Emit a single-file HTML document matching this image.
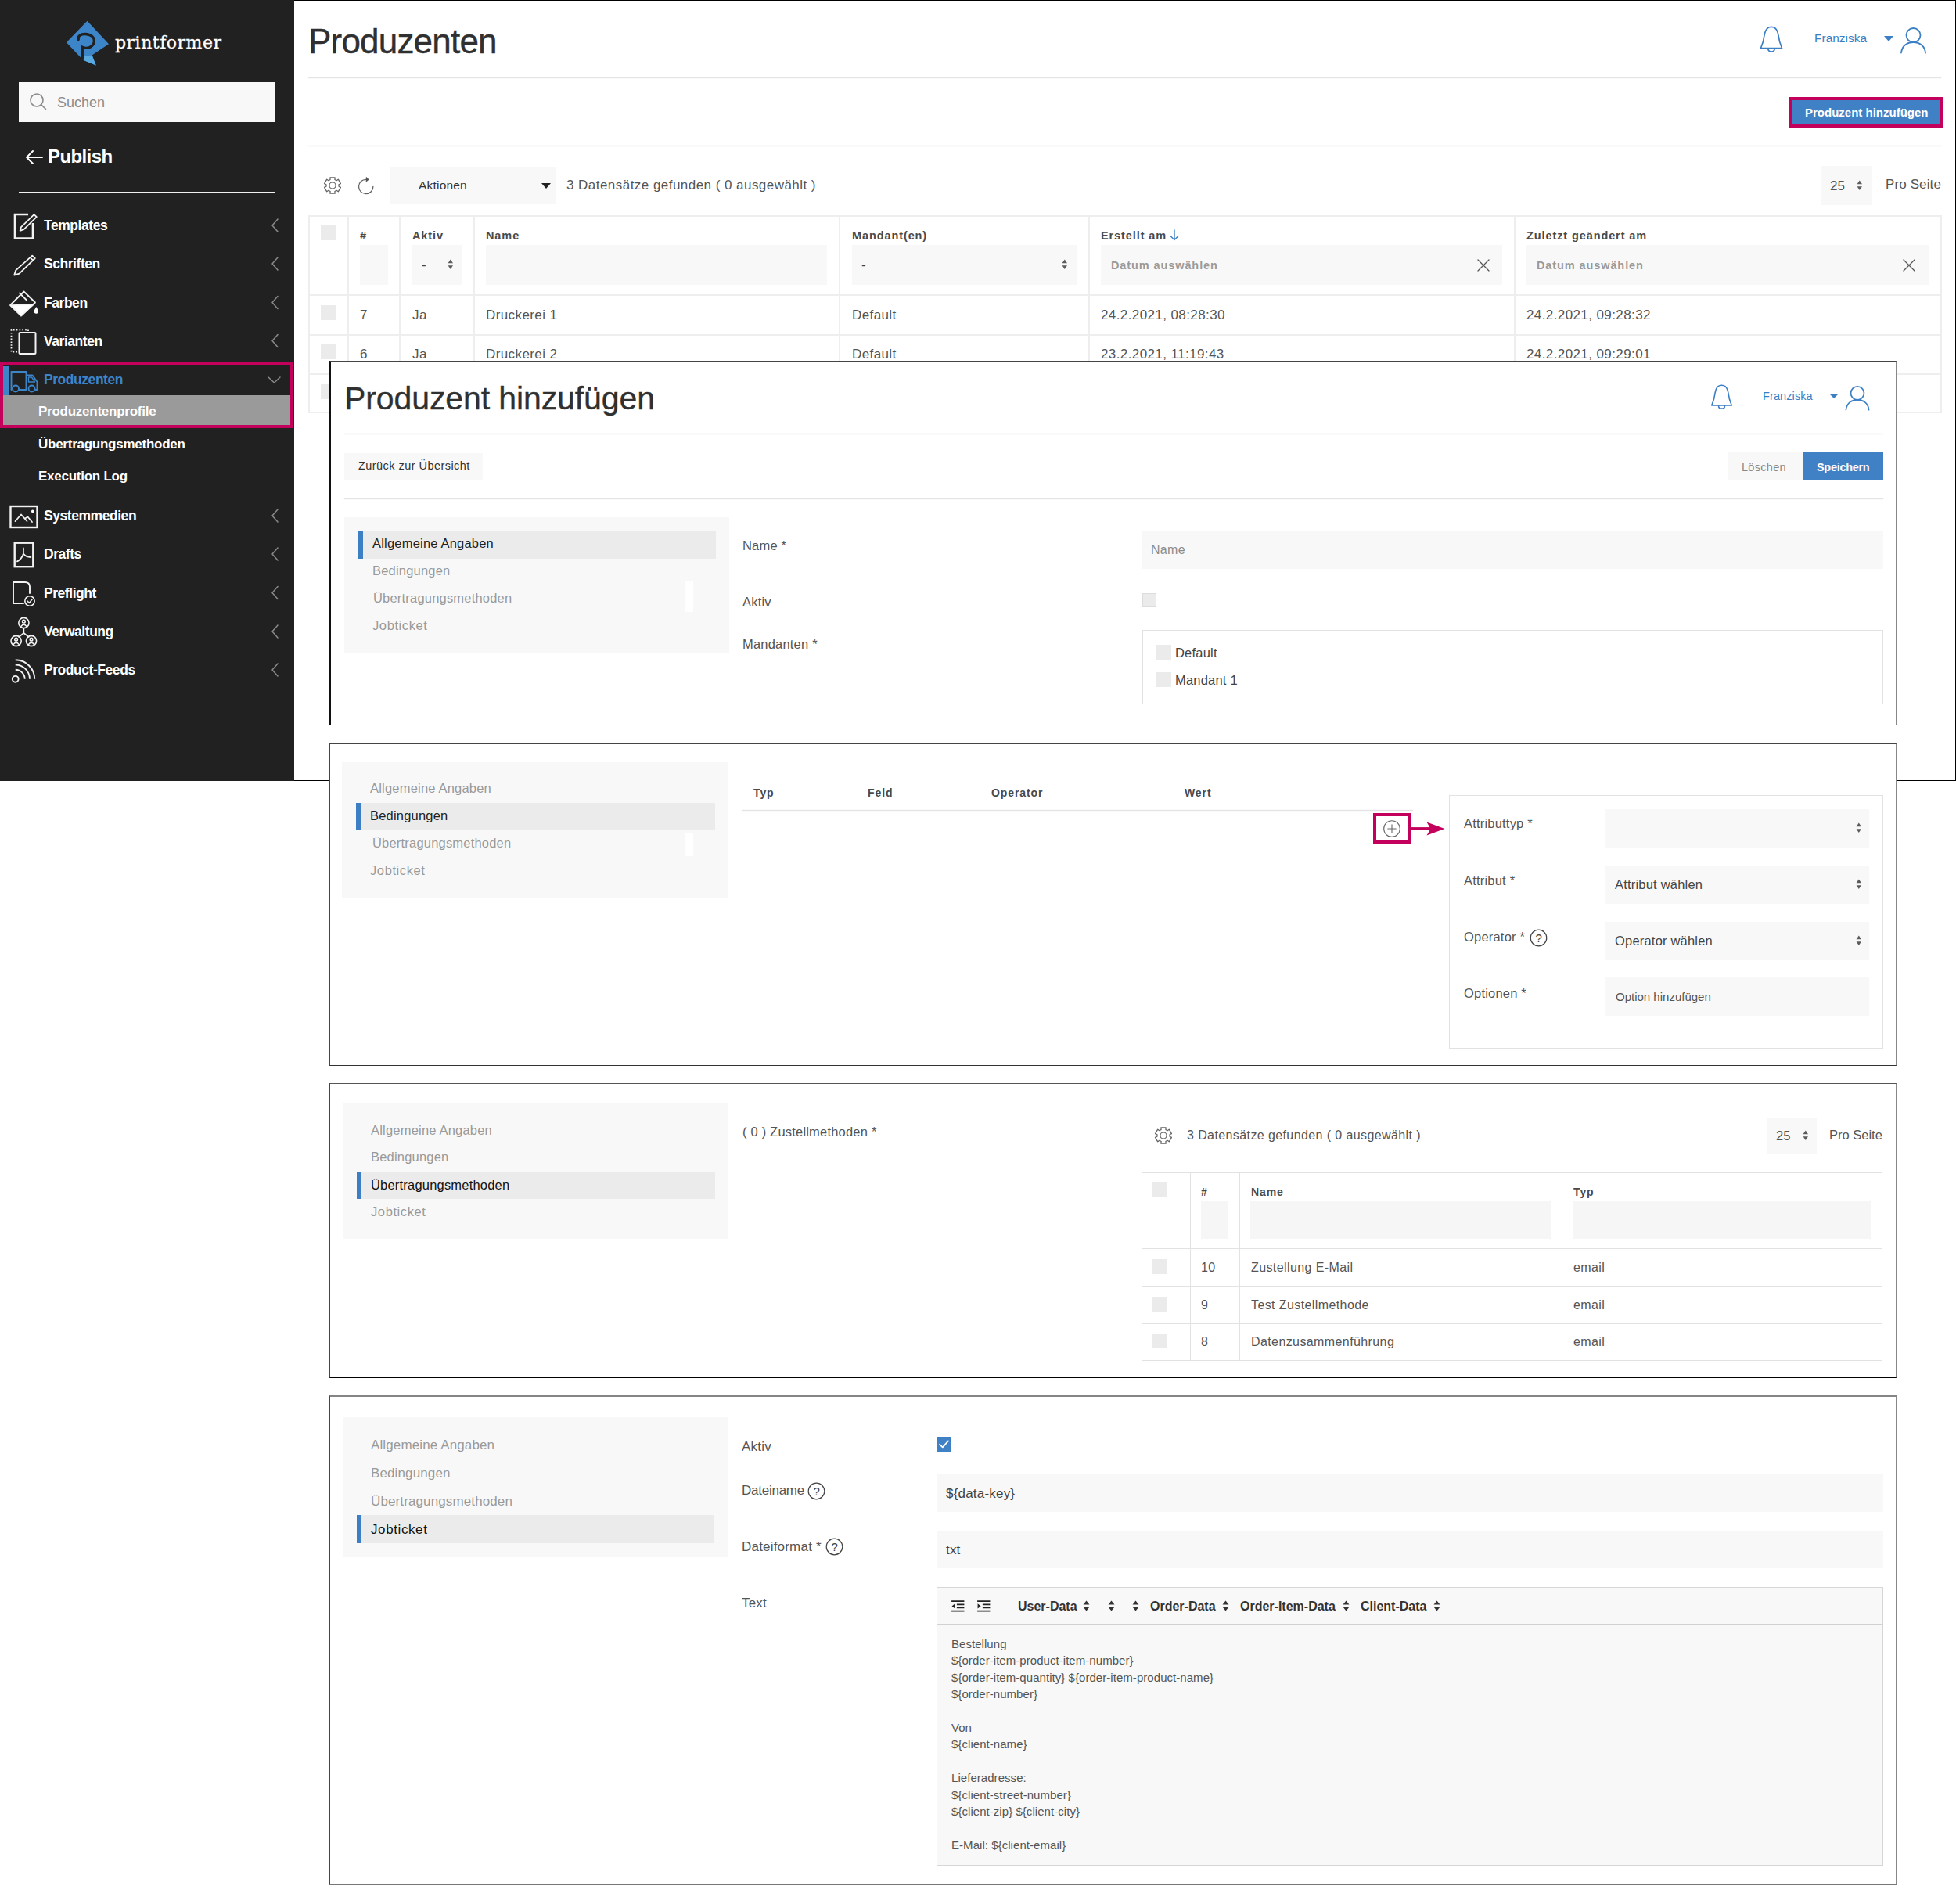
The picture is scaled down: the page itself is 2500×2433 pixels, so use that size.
<!DOCTYPE html>
<html lang="de">
<head>
<meta charset="utf-8">
<title>Produzenten</title>
<style>
html,body{margin:0;padding:0;background:#fff;}
body{width:2500px;height:2433px;position:relative;overflow:hidden;font-family:"Liberation Sans",sans-serif;color:#4a4a4a;}
*{box-sizing:border-box;}
.a{position:absolute;}
.t{position:absolute;white-space:nowrap;line-height:1;}
.b{font-weight:bold;}
.box{position:absolute;background:#f8f8f8;}
.ln{position:absolute;height:2px;background:#eeeeee;}
.cb{position:absolute;background:#ebebeb;}
svg{position:absolute;overflow:visible;}
/* sidebar */
#side{left:0;top:0;width:376px;height:998px;background:#212121;}
.mi{position:absolute;left:56px;color:#fff;font-size:17.5px;letter-spacing:-0.45px;font-weight:bold;white-space:nowrap;line-height:1;}
.si{position:absolute;left:49px;color:#fff;font-size:17px;letter-spacing:-0.25px;font-weight:bold;white-space:nowrap;line-height:1;}
.chev{position:absolute;left:346px;width:12px;height:18px;}
/* tables */
.th{position:absolute;white-space:nowrap;line-height:1;font-weight:bold;font-size:14.5px;letter-spacing:0.9px;color:#4a4a4a;}
.td{position:absolute;white-space:nowrap;line-height:1;font-size:17px;letter-spacing:0.4px;color:#555;}
.vl{position:absolute;width:2px;background:#eeeeee;}
.panel{position:absolute;left:421px;width:2004px;background:#fff;border:1px solid #333;}
.nav{position:absolute;background:#f8f8f8;}
.ni{position:absolute;white-space:nowrap;line-height:1;font-size:16.5px;letter-spacing:0.2px;color:#9a9a9a;}
.ni.on{color:#222;}
.nact{position:absolute;background:#ebebeb;border-left:6px solid #3d7fc4;}
.lbl{position:absolute;white-space:nowrap;line-height:1;font-size:16.5px;letter-spacing:0.2px;color:#555;}
.edt{font-size:16px;color:#333;}
.ed{font-size:15px;letter-spacing:0.05px;line-height:21.4px;color:#555;white-space:nowrap;}
.hr{position:absolute;height:1px;background:#e4e4e4;box-shadow:0 0 0 0.5px #f6f6f6;}
.ln1{position:absolute;height:1px;background:#e2e2e2;}
.vl1{position:absolute;width:1px;background:#e2e2e2;}
</style>
</head>
<body>
<!-- ============ OUTER SCREENSHOT FRAME ============ -->
<div class="a" id="frame" style="left:0;top:0;width:2500px;height:998px;border:1px solid #000;"></div>
<div class="a" id="side"></div>

<!-- logo -->
<svg style="left:84px;top:26px" width="58" height="60" viewBox="0 0 58 60">
  <polygon points="27.5,0.8 55,30.2 33.6,44.5 38.7,57.4 22.3,50.7 0.9,28.2" fill="#3d85c9"/>
  <polygon points="23.5,46.2 33.6,44.5 38.7,57.4 22.3,50.7" fill="#5aaae2"/>
  <path d="M16.3,24.5 C14.8,19.5 20,17.3 25,17.5 C32,17.8 36.8,21.5 36.4,27 C36,32 31,35.6 26,35.4 C24,35.3 22.5,34.9 21.3,34.3 L21.3,50" fill="none" stroke="#212121" stroke-width="3.3" stroke-linecap="round"/>
</svg>
<div class="t" id="pf" style="left:147px;top:44px;-webkit-text-stroke:0.3px #fff;font-family:'DejaVu Serif',serif;font-size:22px;color:#fff;letter-spacing:0.5px;">printformer</div>
<!-- search -->
<div class="a" style="left:24px;top:105px;width:328px;height:51px;background:#f8f8f8;"></div>
<svg style="left:37px;top:118px" width="24" height="24" viewBox="0 0 24 24"><circle cx="10" cy="10" r="8" fill="none" stroke="#8a8a8a" stroke-width="1.6"/><path d="M16,16 L21.5,21.5" stroke="#8a8a8a" stroke-width="1.6" stroke-linecap="round"/></svg>
<div class="t" style="left:73px;top:122px;font-size:18px;color:#8c8c8c;">Suchen</div>
<!-- publish -->
<svg style="left:32px;top:191px" width="24" height="20" viewBox="0 0 24 20"><path d="M22,10 H2 M10,2 L2,10 L10,18" fill="none" stroke="#fff" stroke-width="2" stroke-linecap="round" stroke-linejoin="round"/></svg>
<div class="t b" id="pub" style="left:61px;top:188px;font-size:24px;letter-spacing:-0.6px;color:#fff;">Publish</div>
<div class="a" style="left:24px;top:245px;width:328px;height:2px;background:#f0f0f0;"></div>
<!-- menu -->
<div class="mi" style="top:280px">Templates</div>
<div class="mi" style="top:329px">Schriften</div>
<div class="mi" style="top:379px">Farben</div>
<div class="mi" style="top:428px">Varianten</div>
<!-- active highlight -->
<div class="a" style="left:4px;top:468px;width:8px;height:37px;background:#3d85c9;"></div>
<div class="a" style="left:4px;top:505px;width:367px;height:38px;background:#9a9a9a;"></div>
<div class="a" style="left:0;top:463px;width:375px;height:84px;border:4.5px solid #c3005b;"></div>
<div class="mi" style="top:477px;color:#3d85c9">Produzenten</div>
<div class="si" style="top:517px">Produzentenprofile</div>
<div class="si" style="top:559px">Übertragungsmethoden</div>
<div class="si" style="top:600px">Execution Log</div>
<div class="mi" style="top:651px">Systemmedien</div>
<div class="mi" style="top:700px">Drafts</div>
<div class="mi" style="top:750px">Preflight</div>
<div class="mi" style="top:799px">Verwaltung</div>
<div class="mi" style="top:848px">Product-Feeds</div>

<svg style="left:0;top:0" width="376" height="998" viewBox="0 0 376 998" fill="none" stroke="#f2f2f2" stroke-width="2.2" stroke-linecap="round" stroke-linejoin="round">
  <!-- Templates -->
  <path d="M36,274 H19 V304.5 H42 V285" stroke-width="2.6" stroke-linejoin="miter" stroke-linecap="butt"/>
  <path d="M43.5,274.2 L46.8,277.2 L30.5,293.2 L25.6,294.8 L27,290.2 Z" stroke-width="1.8"/>
  <!-- Schriften -->
  <path d="M41.2,326.6 L44.8,330 L24.6,349.6 L18.2,351.6 L20.2,345.4 Z M38.6,329.2 L42.2,332.6" stroke-width="1.8"/>
  <!-- Farben -->
  <path d="M30.5,372.5 L45,386.5 L27,403.5 L13,390 Z" stroke-width="1.8"/>
  <path d="M14,390 L43,389 L27,403.5 Z" fill="#fff" stroke-width="1.5"/>
  <path d="M25,374.5 L33.5,383" stroke-width="1.8"/>
  <path d="M46.3,392 C48,395 49,396.5 49,398 A2.7,2.7 0 0 1 43.6,398 C43.6,396.5 44.6,395 46.3,392 Z" fill="#fff" stroke="none"/>
  <!-- Varianten -->
  <path d="M22,449.5 H14.5 V421.5 H36 V424" stroke-width="1.8" stroke-dasharray="1.6 2.2" stroke-linecap="butt"/>
  <rect x="24.5" y="425" width="21" height="27" rx="1" stroke-width="2"/>
  <!-- Produzenten truck -->
  <g stroke="#3d85c9" stroke-width="1.9">
    <path d="M14.5,498 V475 H33.5 V498 M24,498 H34 M33.5,479.5 H41.5 L47.5,488 V498 H45.5"/>
    <path d="M36.5,482 H40.5 L44.5,488 H36.5 Z" stroke-width="1.4"/>
    <circle cx="20" cy="496.5" r="4"/><circle cx="40.5" cy="496.5" r="4"/>
  </g>
  <!-- Systemmedien -->
  <rect x="13.5" y="647" width="34" height="27" stroke-width="2.4" stroke-linejoin="miter"/>
  <path d="M19.5,666 L27,657.5 L34.5,666 M32,662.5 L35.5,660.5 L41,667" stroke-width="1.8"/>
  <circle cx="41.7" cy="653.4" r="1.8" fill="#fff" stroke="none"/>
  <!-- Drafts -->
  <rect x="18.7" y="693.7" width="23.6" height="30.5" stroke-width="2.4" stroke-linejoin="miter"/>
  <path d="M29.9,700.5 V707.5 C29,712 25,716 22,717.3 M29.9,707.5 C32,710.5 36,712 39.4,712" stroke-width="1.8"/>
  <!-- Preflight -->
  <path d="M30,771 H17 V744 H32 Q38,744 38,750 V758" stroke-width="1.9"/>
  <circle cx="38" cy="768" r="6.2" stroke-width="1.6"/>
  <path d="M35,768 L37.3,770.4 L41.2,765.8" stroke-width="1.5"/>
  <!-- Verwaltung -->
  <g stroke-width="1.6">
    <circle cx="30.4" cy="796" r="6.6"/><circle cx="20.6" cy="819" r="6.6"/><circle cx="40" cy="819" r="6.6"/>
    <path d="M30.4,803 V809 L24,814 M30.4,809 L36.8,814"/>
    <circle cx="30.4" cy="794.2" r="1.8"/><path d="M26.8,800.6 Q30.4,795.6 34,800.6"/>
    <circle cx="20.6" cy="817.2" r="1.8"/><path d="M17,823.6 Q20.6,818.6 24.2,823.6"/>
    <circle cx="40" cy="817.2" r="1.8"/><path d="M36.4,823.6 Q40,818.6 43.6,823.6"/>
  </g>
  <!-- Product-Feeds -->
  <circle cx="19.7" cy="867.8" r="3.9" stroke-width="1.9"/>
  <path d="M19.7,855.8 A12,12 0 0 1 31.7,867.8 M19.7,849.5 A18.3,18.3 0 0 1 38,867.8 M19.7,843.3 A24.5,24.5 0 0 1 44.2,867.8" stroke-width="1.9" stroke-linecap="butt"/>
  <!-- chevrons -->
  <g stroke="#8a8a8a" stroke-width="1.5">
    <path d="M355,280 L348,288 L355,296"/><path d="M355,329 L348,337 L355,345"/><path d="M355,378.5 L348,386.5 L355,394.5"/><path d="M355,427.5 L348,435.5 L355,443.5"/>
    <path d="M343,482 L350.5,489 L358,482"/>
    <path d="M355,651 L348,659 L355,667"/><path d="M355,700 L348,708 L355,716"/><path d="M355,749.5 L348,757.5 L355,765.5"/><path d="M355,799 L348,807 L355,815"/><path d="M355,848 L348,856 L355,864"/>
  </g>
</svg>



<div class="t" id="title1" style="left:394px;top:31px;font-size:44px;letter-spacing:-0.8px;color:#303030;-webkit-text-stroke:0.35px #303030;">Produzenten</div>
<div class="hr" style="left:394px;top:99px;width:2087px;"></div>
<div class="hr" style="left:394px;top:186px;width:2087px;"></div>
<!-- header right -->
<svg style="left:2248px;top:33px" width="32" height="36" viewBox="0 0 32 36" fill="none" stroke="#3d7fc4" stroke-width="1.7" stroke-linecap="round" stroke-linejoin="round"><path d="M2.5,28.5 L5.5,20 C6.5,15 7,11 8.2,7.5 C9.5,3.5 12.5,1.3 16,1.3 C19.5,1.3 22.5,3.5 23.8,7.5 C25,11 25.5,15 26.5,20 L29.5,28.5 Z"/><path d="M11.8,29 C11.8,34.3 20.2,34.3 20.2,29"/></svg>
<div class="t" id="fr1" style="left:2319px;top:41px;font-size:15.5px;color:#3d7fc4;">Franziska</div>
<div class="a" style="left:2408px;top:46px;width:0;height:0;border-left:6.5px solid transparent;border-right:6.5px solid transparent;border-top:7px solid #3d7fc4;"></div>
<svg style="left:2428px;top:34px" width="35" height="35" viewBox="0 0 35 35" fill="none" stroke="#3d7fc4" stroke-width="1.8" stroke-linecap="round"><circle cx="17.5" cy="11" r="9"/><path d="M2,33.5 C3,24 10,20 17.5,20 C25,20 32,24 33,33.5"/></svg>
<!-- add button -->
<div class="a" style="left:2286px;top:124px;width:197px;height:39px;background:#4081c5;border:4px solid #c3005b;"></div>
<div class="t b" id="addbtn" style="left:2307px;top:136px;font-size:15px;color:#fff;">Produzent hinzufügen</div>
<!-- toolbar -->
<svg style="left:413px;top:225px" width="24" height="24" viewBox="0 0 24 24" fill="none" stroke="#636363" stroke-width="1.25" stroke-linejoin="round"><path d="M15.13,1.77 L8.87,1.77 L9.10,4.44 L6.90,5.71 L4.70,4.17 L1.57,9.59 L4.00,10.73 L4.00,13.27 L1.57,14.41 L4.70,19.83 L6.90,18.29 L9.10,19.56 L8.87,22.23 L15.13,22.23 L14.90,19.56 L17.10,18.29 L19.30,19.83 L22.43,14.41 L20.00,13.27 L20.00,10.73 L22.43,9.59 L19.30,4.17 L17.10,5.71 L14.90,4.44 Z"/><circle cx="12" cy="12" r="4.1"/></svg>
<svg style="left:456px;top:226px" width="24" height="24" viewBox="0 0 24 24" fill="none" stroke="#636363" stroke-width="1.3" stroke-linecap="round"><path d="M20.90,12.50 A9.2,9.2 0 1 1 12.02,3.31"/><path d="M15.62,3.43 L11.94,-0.20 L11.70,6.80 Z" fill="#555" stroke="none"/></svg>
<div class="box" style="left:498px;top:213px;width:213px;height:48px;"></div>
<div class="t" id="akt" style="left:535px;top:229px;font-size:15.5px;letter-spacing:0.2px;color:#333;">Aktionen</div>
<div class="a" style="left:692px;top:234px;width:0;height:0;border-left:6.5px solid transparent;border-right:6.5px solid transparent;border-top:7px solid #222;"></div>
<div class="t" id="cnt1" style="left:724px;top:228px;font-size:17px;letter-spacing:0.46px;color:#555;">3 Datensätze gefunden ( 0 ausgewählt )</div>
<div class="box" style="left:2327px;top:212px;width:66px;height:50px;"></div>
<div class="t" style="left:2339px;top:229px;font-size:17px;color:#555;">25</div>
<svg style="left:2372.7px;top:230.2px" width="7.6" height="13.5" viewBox="0 0 9 16" fill="#5c5c5c"><path d="M4.5,0.5 L8.3,6.3 H0.7 Z M4.5,15.5 L8.3,9.7 H0.7 Z"/></svg>
<div class="t" id="ps1" style="left:2410px;top:227px;font-size:17px;letter-spacing:0.12px;color:#555;">Pro Seite</div>
<!-- table 1 -->
<div class="a" style="left:394px;top:275px;width:2088px;height:253px;border:2px solid #eeeeee;"></div>
<div class="ln" style="left:394px;top:376px;width:2088px;"></div>
<div class="ln" style="left:394px;top:427px;width:2088px;"></div>
<div class="ln" style="left:394px;top:477px;width:2088px;"></div>
<div class="vl" style="left:444px;top:275px;height:253px;"></div>
<div class="vl" style="left:510px;top:275px;height:253px;"></div>
<div class="vl" style="left:605px;top:275px;height:253px;"></div>
<div class="vl" style="left:1072px;top:275px;height:253px;"></div>
<div class="vl" style="left:1391px;top:275px;height:253px;"></div>
<div class="vl" style="left:1935px;top:275px;height:253px;"></div>
<div class="cb" style="left:410px;top:288px;width:19px;height:19px;"></div>
<div class="cb" style="left:410px;top:390px;width:19px;height:19px;"></div>
<div class="cb" style="left:410px;top:440px;width:19px;height:19px;"></div>
<div class="cb" style="left:410px;top:491px;width:19px;height:19px;"></div>
<div class="th" style="left:460px;top:294px;">#</div>
<div class="th" style="left:527px;top:294px;">Aktiv</div>
<div class="th" style="left:621px;top:294px;">Name</div>
<div class="th" style="left:1089px;top:294px;">Mandant(en)</div>
<div class="th" style="left:1407px;top:294px;">Erstellt am</div>
<svg style="left:1495px;top:293px" width="12" height="15" viewBox="0 0 12 15" fill="none" stroke="#3d7fc4" stroke-width="1.4" stroke-linecap="round" stroke-linejoin="round"><path d="M6,1 V13.5 M1.2,8.8 L6,13.5 L10.8,8.8"/></svg>
<div class="th" style="left:1951px;top:294px;">Zuletzt geändert am</div>
<div class="box" style="left:460px;top:313px;width:36px;height:51px;"></div>
<div class="box" style="left:527px;top:313px;width:64px;height:51px;"></div>
<div class="box" style="left:621px;top:313px;width:436px;height:51px;"></div>
<div class="box" style="left:1089px;top:313px;width:287px;height:51px;"></div>
<div class="box" style="left:1407px;top:313px;width:513px;height:51px;"></div>
<div class="box" style="left:1951px;top:313px;width:514px;height:51px;"></div>
<div class="t" style="left:539px;top:330px;font-size:17px;color:#444;">-</div>
<svg style="left:571.7px;top:331.2px" width="7.6" height="13.5" viewBox="0 0 9 16" fill="#5c5c5c"><path d="M4.5,0.5 L8.3,6.3 H0.7 Z M4.5,15.5 L8.3,9.7 H0.7 Z"/></svg>
<div class="t" style="left:1101px;top:330px;font-size:17px;color:#444;">-</div>
<svg style="left:1356.7px;top:331.2px" width="7.6" height="13.5" viewBox="0 0 9 16" fill="#5c5c5c"><path d="M4.5,0.5 L8.3,6.3 H0.7 Z M4.5,15.5 L8.3,9.7 H0.7 Z"/></svg>
<div class="th" style="left:1420px;top:332px;color:#9a9a9a;">Datum auswählen</div>
<div class="th" style="left:1964px;top:332px;color:#9a9a9a;">Datum auswählen</div>
<svg style="left:1888px;top:331px" width="16" height="16" viewBox="0 0 16 16" stroke="#555" stroke-width="1.3" stroke-linecap="round"><path d="M1,1 L15,15 M15,1 L1,15"/></svg>
<svg style="left:2432px;top:331px" width="16" height="16" viewBox="0 0 16 16" stroke="#555" stroke-width="1.3" stroke-linecap="round"><path d="M1,1 L15,15 M15,1 L1,15"/></svg>
<div class="td" style="left:460px;top:394px;">7</div>
<div class="td" style="left:527px;top:394px;">Ja</div>
<div class="td" style="left:621px;top:394px;">Druckerei 1</div>
<div class="td" style="left:1089px;top:394px;">Default</div>
<div class="td" style="left:1407px;top:394px;">24.2.2021, 08:28:30</div>
<div class="td" style="left:1951px;top:394px;">24.2.2021, 09:28:32</div>
<div class="td" style="left:460px;top:444px;">6</div>
<div class="td" style="left:527px;top:444px;">Ja</div>
<div class="td" style="left:621px;top:444px;">Druckerei 2</div>
<div class="td" style="left:1089px;top:444px;">Default</div>
<div class="td" style="left:1407px;top:444px;">23.2.2021, 11:19:43</div>
<div class="td" style="left:1951px;top:444px;">24.2.2021, 09:29:01</div>


<div class="panel" style="top:461px;height:466px;border-left:2px solid #111;border-right:2px solid #888;border-top-color:#444;"></div>
<div class="t" id="title2" style="left:440px;top:489px;font-size:41px;letter-spacing:-0.1px;color:#303030;-webkit-text-stroke:0.35px #303030;">Produzent hinzufügen</div>
<svg style="left:2185px;top:491px" width="31" height="34" viewBox="0 0 32 36" fill="none" stroke="#3d7fc4" stroke-width="1.7" stroke-linecap="round" stroke-linejoin="round"><path d="M2.5,28.5 L5.5,20 C6.5,15 7,11 8.2,7.5 C9.5,3.5 12.5,1.3 16,1.3 C19.5,1.3 22.5,3.5 23.8,7.5 C25,11 25.5,15 26.5,20 L29.5,28.5 Z"/><path d="M11.8,29 C11.8,34.3 20.2,34.3 20.2,29"/></svg>
<div class="t" id="fr2" style="left:2253px;top:499px;font-size:14.5px;color:#3d7fc4;letter-spacing:0.1px;">Franziska</div>
<div class="a" style="left:2338px;top:503px;width:0;height:0;border-left:6px solid transparent;border-right:6px solid transparent;border-top:6.5px solid #3d7fc4;"></div>
<svg style="left:2357px;top:492px" width="34" height="33" viewBox="0 0 35 35" fill="none" stroke="#3d7fc4" stroke-width="1.8" stroke-linecap="round"><circle cx="17.5" cy="11" r="9"/><path d="M2,33.5 C3,24 10,20 17.5,20 C25,20 32,24 33,33.5"/></svg>
<div class="hr" style="left:440px;top:554px;width:1967px;"></div>
<div class="box" style="left:440px;top:579px;width:177px;height:34px;"></div>
<div class="t" id="zur" style="left:458px;top:588px;font-size:14.5px;color:#333;letter-spacing:0.45px;">Zurück zur Übersicht</div>
<div class="box" style="left:2209px;top:578px;width:96px;height:35px;"></div>
<div class="t" id="loe" style="left:2226px;top:590px;font-size:14.5px;color:#8a8a8a;letter-spacing:0.3px;">Löschen</div>
<div class="a" style="left:2304px;top:578px;width:103px;height:35px;background:#4081c5;"></div>
<div class="t b" id="spe" style="left:2322px;top:590px;font-size:14.5px;color:#fff;letter-spacing:-0.3px;">Speichern</div>
<div class="hr" style="left:440px;top:637px;width:1967px;"></div>
<!-- nav -->
<div class="nav" style="left:440px;top:661px;width:492px;height:173px;"></div>
<div class="nact" style="left:458px;top:679px;width:457px;height:35px;"></div>
<div class="a" style="left:876px;top:743px;width:10px;height:39px;background:#fff;"></div>
<div class="ni on" style="left:476px;top:686px;">Allgemeine Angaben</div>
<div class="ni" style="left:476px;top:721px;">Bedingungen</div>
<div class="ni" style="left:477px;top:756px;">Übertragungsmethoden</div>
<div class="ni" style="left:476px;top:791px;letter-spacing:0.6px;">Jobticket</div>
<!-- form -->
<div class="lbl" style="left:949px;top:689px;">Name *</div>
<div class="lbl" style="left:949px;top:761px;">Aktiv</div>
<div class="lbl" style="left:949px;top:815px;">Mandanten *</div>
<div class="box" style="left:1460px;top:679px;width:947px;height:48px;"></div>
<div class="t" style="left:1471px;top:695px;font-size:16px;color:#8c8c8c;letter-spacing:0.3px;">Name</div>
<div class="cb" style="left:1460px;top:758px;width:18px;height:18px;border:1px solid #dcdcdc;"></div>
<div class="a" style="left:1460px;top:805px;width:947px;height:95px;border:1.5px solid #e2e2e2;"></div>
<div class="cb" style="left:1478px;top:824px;width:19px;height:19px;"></div>
<div class="cb" style="left:1478px;top:859px;width:19px;height:19px;"></div>
<div class="lbl" style="left:1502px;top:826px;color:#444;">Default</div>
<div class="lbl" style="left:1502px;top:861px;color:#444;">Mandant 1</div>


<div class="panel" style="top:950px;height:412px;border-right:2px solid #888;border-color:#444 #888 #333 #444;"></div>
<div class="nav" style="left:437px;top:974px;width:493px;height:173px;"></div>
<div class="nact" style="left:455px;top:1026px;width:459px;height:35px;"></div>
<div class="a" style="left:876px;top:1065px;width:10px;height:29px;background:#fff;"></div>
<div class="ni" style="left:473px;top:999px;">Allgemeine Angaben</div>
<div class="ni on" style="left:473px;top:1034px;">Bedingungen</div>
<div class="ni" style="left:476px;top:1069px;">Übertragungsmethoden</div>
<div class="ni" style="left:473px;top:1104px;letter-spacing:0.6px;">Jobticket</div>
<div class="th" style="left:963px;top:1006px;font-size:14px;">Typ</div>
<div class="th" style="left:1109px;top:1006px;font-size:14px;">Feld</div>
<div class="th" style="left:1267px;top:1006px;font-size:14px;">Operator</div>
<div class="th" style="left:1514px;top:1006px;font-size:14px;">Wert</div>
<div class="hr" style="left:948px;top:1035px;width:858px;"></div>
<!-- plus box + arrow -->
<div class="a" style="left:1755px;top:1039px;width:48px;height:39px;border:4px solid #c3005b;"></div>
<svg style="left:1767px;top:1047px" width="24" height="24" viewBox="0 0 24 24" fill="none" stroke="#666" stroke-width="1.1" stroke-linecap="round"><circle cx="12" cy="12" r="10.3"/><path d="M12,6.8 V17.2 M6.8,12 H17.2"/></svg>
<svg style="left:1803px;top:1049px" width="46" height="20" viewBox="0 0 46 20"><path d="M0,10 H26" stroke="#c3005b" stroke-width="3.8"/><path d="M20.5,1.6 L43.5,10 L20.5,18.4 L25.5,10 Z" fill="#c3005b"/></svg>
<!-- form box -->
<div class="a" style="left:1852px;top:1016px;width:555px;height:324px;border:1.5px solid #e2e2e2;"></div>
<div class="lbl" style="left:1871px;top:1044px;">Attributtyp *</div>
<div class="lbl" style="left:1871px;top:1117px;">Attribut *</div>
<div class="lbl" style="left:1871px;top:1189px;">Operator *</div>
<div class="lbl" style="left:1871px;top:1261px;">Optionen *</div>
<svg style="left:1955px;top:1187px" width="23" height="23" viewBox="0 0 23 23" fill="none" stroke="#444" stroke-width="1.2"><circle cx="11.5" cy="11.5" r="10.3"/></svg>
<div class="t" style="left:1962.5px;top:1191px;font-size:15px;color:#444;">?</div>
<div class="box" style="left:2051px;top:1034px;width:338px;height:49px;"></div>
<div class="box" style="left:2051px;top:1106px;width:338px;height:49px;"></div>
<div class="box" style="left:2051px;top:1178px;width:338px;height:49px;"></div>
<div class="box" style="left:2051px;top:1249px;width:338px;height:49px;"></div>
<div class="lbl" style="left:2064px;top:1122px;color:#444;">Attribut wählen</div>
<div class="lbl" style="left:2064px;top:1194px;color:#444;">Operator wählen</div>
<div class="t" style="left:2065px;top:1266px;font-size:15px;color:#555;">Option hinzufügen</div>
<svg style="left:2371.7px;top:1051.2px" width="7.6" height="13.5" viewBox="0 0 9 16" fill="#5c5c5c"><path d="M4.5,0.5 L8.3,6.3 H0.7 Z M4.5,15.5 L8.3,9.7 H0.7 Z"/></svg><svg style="left:2371.7px;top:1123.2px" width="7.6" height="13.5" viewBox="0 0 9 16" fill="#5c5c5c"><path d="M4.5,0.5 L8.3,6.3 H0.7 Z M4.5,15.5 L8.3,9.7 H0.7 Z"/></svg><svg style="left:2371.7px;top:1195.2px" width="7.6" height="13.5" viewBox="0 0 9 16" fill="#5c5c5c"><path d="M4.5,0.5 L8.3,6.3 H0.7 Z M4.5,15.5 L8.3,9.7 H0.7 Z"/></svg>


<div class="panel" style="top:1384px;height:377px;border-right:2px solid #888;border-color:#555 #888 #000 #444;"></div>
<div class="nav" style="left:439px;top:1410px;width:491px;height:173px;"></div>
<div class="nact" style="left:456px;top:1497px;width:458px;height:35px;"></div>
<div class="ni" style="left:474px;top:1436px;">Allgemeine Angaben</div>
<div class="ni" style="left:474px;top:1470px;">Bedingungen</div>
<div class="ni on" style="left:474px;top:1506px;color:#111;">Übertragungsmethoden</div>
<div class="ni" style="left:474px;top:1540px;letter-spacing:0.6px;">Jobticket</div>
<div class="lbl" id="zust" style="left:949px;top:1438px;">( 0 ) Zustellmethoden *</div>
<svg style="left:1475px;top:1439px" width="24" height="24" viewBox="0 0 24 24" fill="none" stroke="#636363" stroke-width="1.25" stroke-linejoin="round"><path d="M15.13,1.77 L8.87,1.77 L9.10,4.44 L6.90,5.71 L4.70,4.17 L1.57,9.59 L4.00,10.73 L4.00,13.27 L1.57,14.41 L4.70,19.83 L6.90,18.29 L9.10,19.56 L8.87,22.23 L15.13,22.23 L14.90,19.56 L17.10,18.29 L19.30,19.83 L22.43,14.41 L20.00,13.27 L20.00,10.73 L22.43,9.59 L19.30,4.17 L17.10,5.71 L14.90,4.44 Z"/><circle cx="12" cy="12" r="4.1"/></svg>
<div class="t" id="cnt3" style="left:1517px;top:1443px;font-size:16px;color:#555;letter-spacing:0.4px;">3 Datensätze gefunden ( 0 ausgewählt )</div>
<div class="box" style="left:2259px;top:1428px;width:63px;height:47px;"></div>
<div class="t" style="left:2270px;top:1443px;font-size:16.5px;color:#555;">25</div>
<svg style="left:2303.7px;top:1444.2px" width="7.6" height="13.5" viewBox="0 0 9 16" fill="#5c5c5c"><path d="M4.5,0.5 L8.3,6.3 H0.7 Z M4.5,15.5 L8.3,9.7 H0.7 Z"/></svg>
<div class="t" id="ps3" style="left:2338px;top:1442px;font-size:16.5px;color:#555;">Pro Seite</div>
<div class="a" style="left:1459px;top:1498px;width:947px;height:241px;border:1px solid #e2e2e2;"></div>
<div class="ln1" style="left:1459px;top:1595px;width:947px;"></div>
<div class="ln1" style="left:1459px;top:1643px;width:947px;"></div>
<div class="ln1" style="left:1459px;top:1691px;width:947px;"></div>
<div class="vl1" style="left:1521px;top:1498px;height:241px;"></div>
<div class="vl1" style="left:1584px;top:1498px;height:241px;"></div>
<div class="vl1" style="left:1996px;top:1498px;height:241px;"></div>
<div class="cb" style="left:1473px;top:1511px;width:19px;height:19px;"></div>
<div class="cb" style="left:1473px;top:1609px;width:19px;height:19px;"></div>
<div class="cb" style="left:1473px;top:1657px;width:19px;height:19px;"></div>
<div class="cb" style="left:1473px;top:1704px;width:19px;height:19px;"></div>
<div class="th" style="left:1535px;top:1516px;font-size:14px;">#</div>
<div class="th" style="left:1599px;top:1516px;font-size:14px;">Name</div>
<div class="th" style="left:2011px;top:1516px;font-size:14px;">Typ</div>
<div class="a" style="left:1535px;top:1535px;width:35px;height:48px;background:#f6f6f6;"></div>
<div class="a" style="left:1598px;top:1535px;width:384px;height:48px;background:#f6f6f6;"></div>
<div class="a" style="left:2011px;top:1535px;width:380px;height:48px;background:#f6f6f6;"></div>
<div class="td" style="left:1535px;top:1612px;font-size:16px;">10</div>
<div class="td" style="left:1599px;top:1612px;font-size:16px;">Zustellung E-Mail</div>
<div class="td" style="left:2011px;top:1612px;font-size:16px;">email</div>
<div class="td" style="left:1535px;top:1660px;font-size:16px;">9</div>
<div class="td" style="left:1599px;top:1660px;font-size:16px;">Test Zustellmethode</div>
<div class="td" style="left:2011px;top:1660px;font-size:16px;">email</div>
<div class="td" style="left:1535px;top:1707px;font-size:16px;">8</div>
<div class="td" style="left:1599px;top:1707px;font-size:16px;">Datenzusammenführung</div>
<div class="td" style="left:2011px;top:1707px;font-size:16px;">email</div>


<div class="panel" style="top:1783px;height:626px;border-top:2px solid #858585;border-right:2px solid #888;border-bottom:2px solid #777;border-left-color:#444;"></div>
<div class="a" style="left:438px;top:1786px;width:1969px;height:1px;background:#ececec;"></div>
<div class="nav" style="left:439px;top:1811px;width:491px;height:178px;"></div>
<div class="nact" style="left:456px;top:1936px;width:457px;height:36px;"></div>
<div class="ni" style="left:474px;top:1837.5px;font-size:17px;letter-spacing:0.12px;">Allgemeine Angaben</div>
<div class="ni" style="left:474px;top:1873.5px;font-size:17px;letter-spacing:0.12px;">Bedingungen</div>
<div class="ni" style="left:474px;top:1909.5px;font-size:17px;letter-spacing:0.12px;">Übertragungsmethoden</div>
<div class="ni on" style="left:474px;top:1945.5px;font-size:17px;letter-spacing:0.6px;color:#111;">Jobticket</div>
<div class="lbl" style="left:948px;top:1840px;font-size:17px;">Aktiv</div>
<div class="lbl" style="left:948px;top:1896px;font-size:17px;letter-spacing:-0.25px;">Dateiname</div>
<div class="lbl" style="left:948px;top:1968px;font-size:17px;">Dateiformat *</div>
<div class="lbl" style="left:948px;top:2040px;font-size:17px;">Text</div>
<svg style="left:1032px;top:1894px" width="23" height="23" viewBox="0 0 23 23" fill="none" stroke="#444" stroke-width="1.2"><circle cx="11.5" cy="11.5" r="10.3"/></svg><div class="t" style="left:1039.5px;top:1898px;font-size:15px;color:#444;">?</div><svg style="left:1055px;top:1965px" width="23" height="23" viewBox="0 0 23 23" fill="none" stroke="#444" stroke-width="1.2"><circle cx="11.5" cy="11.5" r="10.3"/></svg><div class="t" style="left:1062.5px;top:1969px;font-size:15px;color:#444;">?</div>
<div class="a" style="left:1197px;top:1836px;width:19px;height:19px;background:#4081c5;"></div>
<svg style="left:1197px;top:1836px" width="19" height="19" viewBox="0 0 19 19" fill="none" stroke="#fff" stroke-width="1.8" stroke-linecap="round" stroke-linejoin="round"><path d="M4,9.8 L7.8,13.4 L15,5.4"/></svg>
<div class="box" style="left:1197px;top:1884px;width:1210px;height:48px;"></div>
<div class="box" style="left:1197px;top:1956px;width:1210px;height:48px;"></div>
<div class="lbl" style="left:1209px;top:1900px;font-size:17px;color:#444;">${data-key}</div>
<div class="lbl" style="left:1209px;top:1972px;font-size:17px;color:#444;">txt</div>
<!-- editor -->
<div class="a" style="left:1197px;top:2028px;width:1210px;height:356px;background:#f8f8f8;border:1.5px solid #d6d6d6;"></div>
<div class="a" style="left:1197px;top:2075px;width:1210px;height:1px;background:#d2d2d2;"></div>
<svg style="left:1216px;top:2045px" width="16.5" height="14.5" viewBox="0 0 18 16" fill="none" stroke="#222" stroke-width="1.8"><path d="M0,1.2 H18 M7.5,6 H18 M7.5,10.4 H18 M0,15 H18"/><path d="M5,4.8 V11.6 L0.5,8.2 Z" fill="#222" stroke="none"/></svg>
<svg style="left:1248.5px;top:2045px" width="16.5" height="14.5" viewBox="0 0 18 16" fill="none" stroke="#222" stroke-width="1.8"><path d="M0,1.2 H18 M7.5,6 H18 M7.5,10.4 H18 M0,15 H18"/><path d="M0.5,4.8 V11.6 L5,8.2 Z" fill="#222" stroke="none"/></svg>
<div class="t b edt" id="ud" style="margin-top:0.7px;left:1301px;top:2044px;">User-Data</div>
<div class="t b edt" id="od" style="margin-top:0.7px;left:1470px;top:2044px;">Order-Data</div>
<div class="t b edt" id="oid" style="margin-top:0.7px;left:1585px;top:2044px;">Order-Item-Data</div>
<div class="t b edt" id="cd" style="margin-top:0.7px;left:1739px;top:2044px;">Client-Data</div>
<svg style="left:1384px;top:2045px" width="9" height="14" viewBox="0 0 9 14" fill="#333"><path d="M4.5,0.5 L8.5,5.5 H0.5 Z M4.5,13.5 L8.5,8.5 H0.5 Z"/></svg><svg style="left:1415.5px;top:2045px" width="9" height="14" viewBox="0 0 9 14" fill="#333"><path d="M4.5,0.5 L8.5,5.5 H0.5 Z M4.5,13.5 L8.5,8.5 H0.5 Z"/></svg><svg style="left:1447px;top:2045px" width="9" height="14" viewBox="0 0 9 14" fill="#333"><path d="M4.5,0.5 L8.5,5.5 H0.5 Z M4.5,13.5 L8.5,8.5 H0.5 Z"/></svg><svg style="left:1562px;top:2045px" width="9" height="14" viewBox="0 0 9 14" fill="#333"><path d="M4.5,0.5 L8.5,5.5 H0.5 Z M4.5,13.5 L8.5,8.5 H0.5 Z"/></svg><svg style="left:1715.5px;top:2045px" width="9" height="14" viewBox="0 0 9 14" fill="#333"><path d="M4.5,0.5 L8.5,5.5 H0.5 Z M4.5,13.5 L8.5,8.5 H0.5 Z"/></svg><svg style="left:1831.5px;top:2045px" width="9" height="14" viewBox="0 0 9 14" fill="#333"><path d="M4.5,0.5 L8.5,5.5 H0.5 Z M4.5,13.5 L8.5,8.5 H0.5 Z"/></svg>
<div class="a ed" id="edtxt" style="left:1216px;top:2090px;">Bestellung<br>${order-item-product-item-number}<br>${order-item-quantity} ${order-item-product-name}<br>${order-number}<br><br>Von<br>${client-name}<br><br>Lieferadresse:<br>${client-street-number}<br>${client-zip} ${client-city}<br><br>E-Mail: ${client-email}</div>

</body>
</html>
